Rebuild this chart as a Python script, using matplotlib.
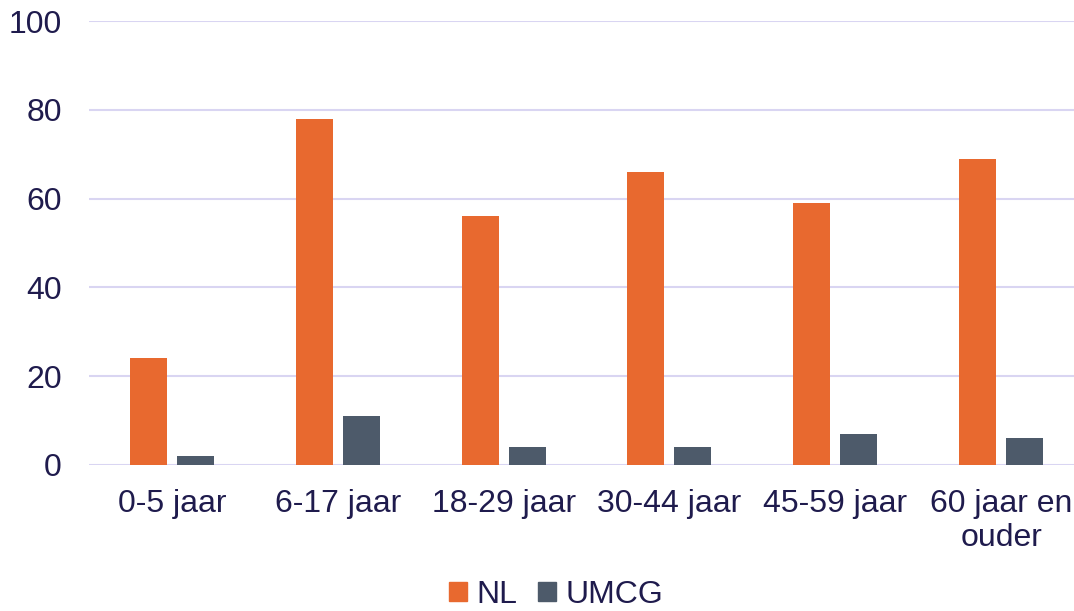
import numpy as np
import matplotlib.pyplot as plt
from matplotlib.patches import Patch

plt.rcParams['font.family'] = ['Liberation Sans', 'DejaVu Sans']

categories = ["0-5 jaar", "6-17 jaar", "18-29 jaar", "30-44 jaar", "45-59 jaar", "60 jaar en\nouder"]
nl = [24, 78, 56, 66, 59, 69]
umcg = [2, 11, 4, 4, 7, 6]
yticks = [0, 20, 40, 60, 80, 100]

orange = "#E8692F"
slate = "#4D5A6A"
text_col = "#1F1B4D"
grid_col = "#D9D5F2"

fig = plt.figure(figsize=(10.74, 6.11), dpi=100)
# plot area runs a little past the right edge, as in the original crop
ax = fig.add_axes([0.0829, 0.239, 0.9264, 0.7266])

x = np.arange(len(categories))
w = 0.223
off = 0.283 / 2
ax.bar(x - off, nl, w, color=orange, zorder=3)
ax.bar(x + off, umcg, w, color=slate, zorder=3)

ax.set_xlim(-0.5, len(categories) - 0.5)
ax.set_ylim(0, 100)
ax.set_yticks(yticks)
ax.yaxis.grid(True, color=grid_col, linewidth=1.5, zorder=0)
ax.set_axisbelow(True)
for s in ax.spines.values():
    s.set_visible(False)
ax.tick_params(axis='both', length=0, labelsize=23, colors=text_col)
ax.tick_params(axis='x', pad=17)
ax.tick_params(axis='y', pad=19.5)
ax.set_xticks(x)
ax.set_xticklabels(categories, linespacing=1.2, va='top')

handles = [Patch(color=orange, label="NL"), Patch(color=slate, label="UMCG")]
fig.legend(handles=handles, loc='center', ncol=2, frameon=False,
           fontsize=23, labelcolor=text_col, bbox_to_anchor=(0.518, 0.026),
           handlelength=0.55, handleheight=0.55, handletextpad=0.3, columnspacing=0.65)

fig.savefig("out.png", dpi=100)
